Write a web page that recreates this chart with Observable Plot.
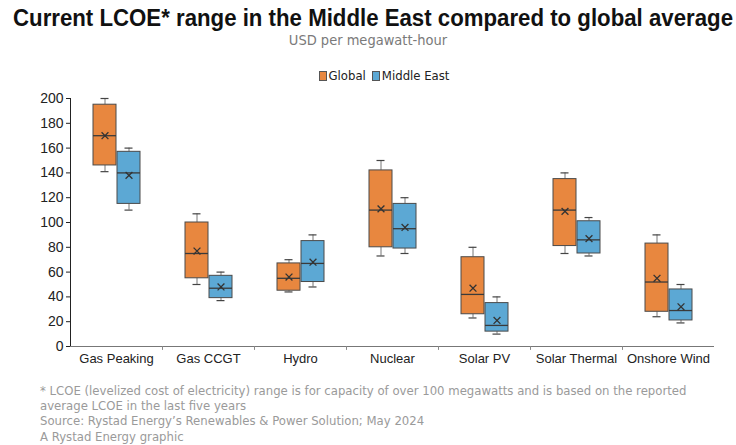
<!DOCTYPE html>
<html><head><meta charset="utf-8">
<script src="https://cdn.jsdelivr.net/npm/d3@7"></script>
<script src="https://cdn.jsdelivr.net/npm/@observablehq/plot@0.6"></script>
<style>
body{margin:0;background:#fff;width:736px;height:445px;overflow:hidden;position:relative;font-family:"Liberation Sans",Arial,sans-serif}
#title{position:absolute;left:13px;top:4px;white-space:nowrap;font-weight:bold;font-size:23.5px;line-height:28px;font-family:"Liberation Sans",Arial,sans-serif;color:#111}
#title span{display:inline-block;transform-origin:0 50%}
#subtitle{position:absolute;left:0;width:736px;top:31px;text-align:center;font-size:14.5px;line-height:18px;font-family:"DejaVu Sans Condensed",sans-serif;color:#7a7a7a}
#legend{position:absolute;left:0;width:762px;top:68px;text-align:center;font-size:13px;line-height:16px;font-family:"DejaVu Sans Condensed",sans-serif;color:#222}
#legend span.sw{display:inline-block;width:6px;height:8px;border:1px solid #555;margin:0 2px 0 6px;vertical-align:-1px}
#chart{position:absolute;left:0;top:88px}
#footer{position:absolute;left:40px;top:383px;font-size:13px;line-height:15.2px;font-family:"DejaVu Sans Condensed",sans-serif;color:#9a9a9a}
.c g[aria-label="y-axis tick label"]{font-size:14px}
</style></head>
<body>
<div id="title"><span></span></div>
<div id="subtitle"></div>
<div id="legend"></div>
<div id="chart"></div>
<div id="footer"></div>
<script>
const titleText = "Current LCOE* range in the Middle East compared to global average";
const subtitleText = "USD per megawatt-hour";
const footerLines = [
  "* LCOE (levelized cost of electricity) range is for capacity of over 100 megawatts and is based on the reported",
  "average LCOE in the last five years",
  "Source: Rystad Energy\u2019s Renewables & Power Solution; May 2024",
  "A Rystad Energy graphic"
];
const categories = ["Gas Peaking","Gas CCGT","Hydro","Nuclear","Solar PV","Solar Thermal","Onshore Wind"];
const series = ["Global","Middle East"];
const colors = ["#E8873F","#5CA8D4"];
const yTicks = [0,20,40,60,80,100,120,140,160,180,200];

const globalMin    = [141, 50, 44, 73, 23, 75, 24];
const globalQ1     = [146, 55, 45, 80, 26, 81, 28];
const globalMedian = [170, 75, 55, 110, 42, 110, 52];
const globalMean   = [170, 77, 56, 111, 47, 109, 55];
const globalQ3     = [195, 100, 67, 142, 72, 135, 83];
const globalMax    = [200, 107, 70, 150, 80, 140, 90];

const meMin    = [110, 37, 48, 75, 10, 73, 19];
const meQ1     = [115, 39, 52, 79, 12, 75, 21];
const meMedian = [140, 47, 67, 95, 17, 86, 29];
const meMean   = [138, 48, 68, 96, 21, 87, 32];
const meQ3     = [157, 57, 85, 115, 35, 101, 46];
const meMax    = [160, 60, 90, 120, 40, 104, 50];

const rows = categories.flatMap((c, i) => [
  {cat: c, series: "Global", min: globalMin[i], q1: globalQ1[i], median: globalMedian[i], mean: globalMean[i], q3: globalQ3[i], max: globalMax[i]},
  {cat: c, series: "Middle East", min: meMin[i], q1: meQ1[i], median: meMedian[i], mean: meMean[i], q3: meQ3[i], max: meMax[i]}
]);

const tspan = document.querySelector("#title span");
tspan.textContent = titleText;
const tw = tspan.getBoundingClientRect().width;
const s = Math.min(1, 720 / tw);
tspan.style.transform = `scaleX(${s})`;

document.getElementById("subtitle").textContent = subtitleText;
const lg = document.getElementById("legend");
series.forEach((sr, i) => {
  const sw = document.createElement("span"); sw.className = "sw"; sw.style.background = colors[i];
  lg.appendChild(sw);
  lg.appendChild(document.createTextNode(sr));
});
document.getElementById("footer").innerHTML = footerLines.map(l => l.replace(/&/g,"&amp;")).join("<br>");

const tickShape = {draw(context, l) { context.moveTo(0, 0); context.lineTo(0, -l); }};

const chart = Plot.plot({
  className: "c",
  width: 736, height: 282,
  marginTop: 10, marginBottom: 24, marginLeft: 67, marginRight: 19,
  style: {fontFamily: "Liberation Sans, Arial, sans-serif", fontSize: "13px", color: "#222", background: "white"},
  fx: {domain: categories, padding: 0, label: null, axis: "bottom", tickSize: 0, tickPadding: 7},
  x: {domain: series, paddingInner: 0.06, paddingOuter: 0.93, axis: null},
  y: {domain: [0, 200], ticks: yTicks, tickSize: 4, tickPadding: 3, line: true, label: null},
  color: {domain: series, range: colors},
  marks: [
    Plot.ruleY([0], {stroke: "#777", strokeWidth: 1}),
    Plot.vector(categories.slice(1), {fx: d => d, frameAnchor: "bottom-left", length: 3, rotate: 180, anchor: "start", shape: tickShape, stroke: "#888", strokeWidth: 1}),
    Plot.ruleX(rows, {fx: "cat", x: "series", y1: "q3", y2: "max", stroke: "#777", strokeWidth: 1}),
    Plot.ruleX(rows, {fx: "cat", x: "series", y1: "min", y2: "q1", stroke: "#777", strokeWidth: 1}),
    Plot.tickY(rows, {fx: "cat", x: "series", y: "max", stroke: "#444", strokeWidth: 1.2, insetLeft: 7.5, insetRight: 7.5}),
    Plot.tickY(rows, {fx: "cat", x: "series", y: "min", stroke: "#444", strokeWidth: 1.2, insetLeft: 7.5, insetRight: 7.5}),
    Plot.barY(rows, {fx: "cat", x: "series", y1: "q1", y2: "q3", fill: "series", stroke: "#4a4a4a", strokeWidth: 1}),
    Plot.tickY(rows, {fx: "cat", x: "series", y: "median", stroke: "#3a3a3a", strokeWidth: 1.3}),
    Plot.dot(rows, {fx: "cat", x: "series", y: "mean", symbol: "times", r: 3.2, stroke: "#333", strokeWidth: 1.3})
  ]
});
document.getElementById("chart").appendChild(chart);
</script>
</body></html>
